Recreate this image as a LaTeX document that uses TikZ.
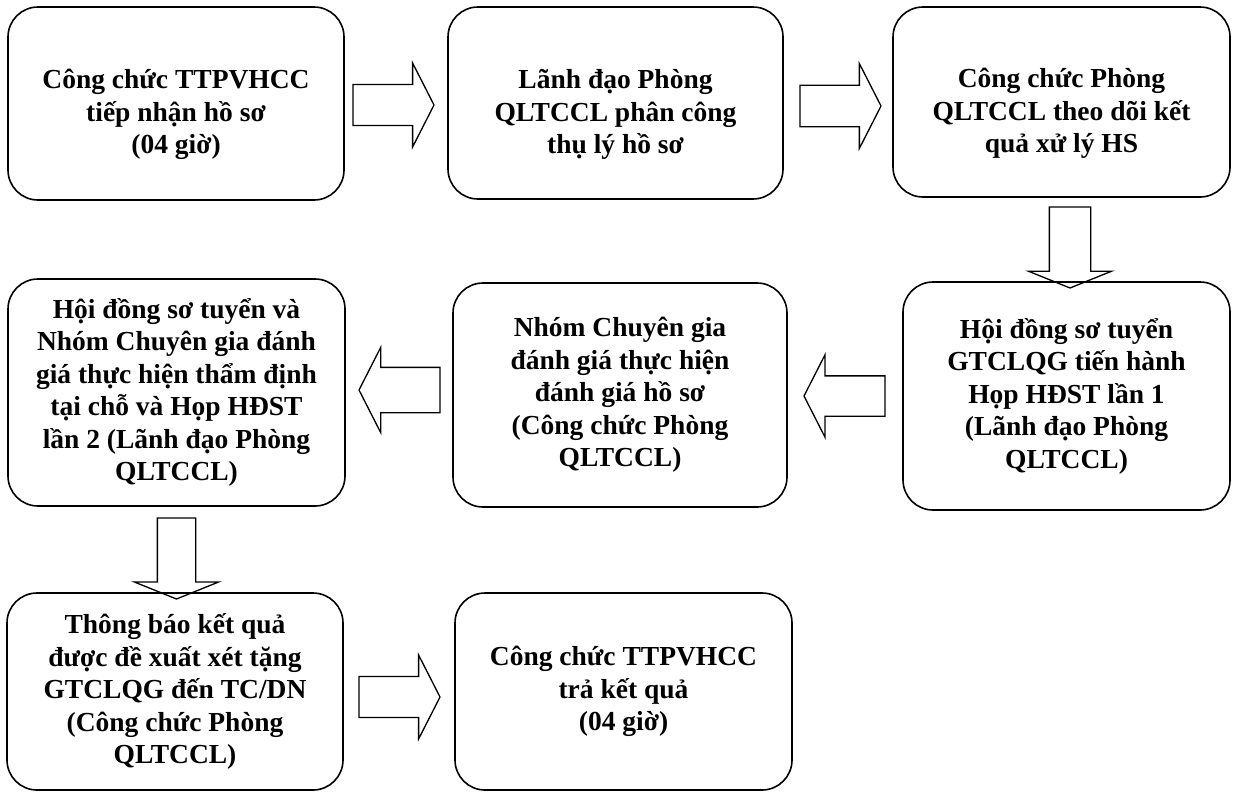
\documentclass[tikz,border=0pt]{standalone}
\usepackage{fontspec}
\setmainfont{Liberation Serif}
\usetikzlibrary{shapes.arrows}
\newcommand{\lowstrut}{\rule{0pt}{42pt}}

\begin{document}
\begin{tikzpicture}[x=1pt,y=-1pt,
  box/.style={draw,rounded corners=30pt,line width=1.6pt,align=center,inner sep=0pt,
    font=\fontsize{27.5}{32.5}\selectfont\bfseries},
  barrow/.style={draw,single arrow,line width=1.3pt,inner xsep=0pt,inner ysep=19.5pt,outer sep=0pt,
    minimum height=81pt,single arrow head extend=21pt,single arrow tip angle=126,anchor=tail}]
\useasboundingbox (0,0) rectangle (1238,793);
% row 1
\node[box,minimum width=336pt,minimum height=193pt] (n1) at (176,103.5) {\lowstrut Công chức TTPVHCC\\tiếp nhận hồ sơ\\(04 giờ)};
\node[box,minimum width=335pt,minimum height=192pt] (n2) at (615.5,103) {\lowstrut Lãnh đạo Phòng\\QLTCCL phân công\\thụ lý hồ sơ};
\node[box,minimum width=337pt,minimum height=190pt] (n3) at (1061.5,102) {\lowstrut Công chức Phòng\\QLTCCL theo dõi kết\\quả xử lý HS};
% row 2
\node[box,minimum width=327pt,minimum height=228pt] (n4) at (1066.5,396) {Hội đồng sơ tuyển\\GTCLQG tiến hành\\Họp HĐST lần 1\\(Lãnh đạo Phòng\\QLTCCL)};
\node[box,minimum width=334pt,minimum height=224pt] (n5) at (620,395) {Nhóm Chuyên gia\\đánh giá thực hiện\\đánh giá hồ sơ\\(Công chức Phòng\\QLTCCL)};
\node[box,minimum width=337pt,minimum height=227pt] (n6) at (176.5,392.5) {Hội đồng sơ tuyển và\\Nhóm Chuyên gia đánh\\giá thực hiện thẩm định\\tại chỗ và Họp HĐST\\lần 2 (Lãnh đạo Phòng\\QLTCCL)};
% row 3
\node[box,minimum width=336pt,minimum height=197pt] (n7) at (175,691.5) {Thông báo kết quả\\được đề xuất xét tặng\\GTCLQG đến TC/DN\\(Công chức Phòng\\QLTCCL)};
\node[box,minimum width=337pt,minimum height=197pt] (n8) at (623.5,691.5) {Công chức TTPVHCC\\trả kết quả\\(04 giờ)};
% block arrows
\node[barrow,minimum width=84pt] (a1) at (353,105) {};
\node[barrow,minimum width=85pt] (a2) at (800,106) {};
\node[barrow,minimum width=66pt,rotate=-90,single arrow tip angle=136,inner ysep=20pt] (a3) at (1070,207) {};
\node[barrow,minimum width=82pt,rotate=180] (a4) at (885,396) {};
\node[barrow,minimum width=85pt,rotate=180,inner ysep=22pt,single arrow head extend=20pt] (a5) at (440,390) {};
\node[barrow,minimum width=67pt,rotate=-90,single arrow tip angle=136,inner ysep=18.5pt,single arrow head extend=23pt] (a6) at (176.5,518) {};
\node[barrow,minimum width=84pt] (a7) at (359,697) {};
\end{tikzpicture}
\end{document}
